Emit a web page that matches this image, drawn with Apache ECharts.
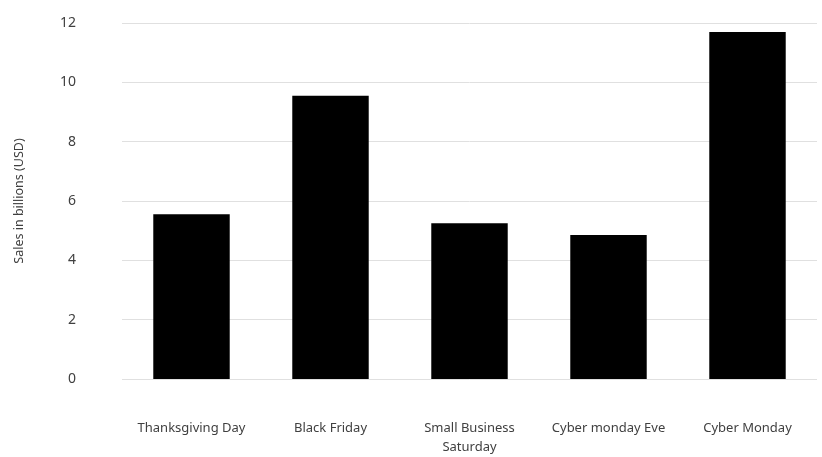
<!DOCTYPE html>
<html>
<head>
<meta charset="utf-8">
<script src="https://cdn.jsdelivr.net/npm/echarts@6/dist/echarts.min.js"></script>
<style>
html,body{margin:0;padding:0;background:#fff;}
#chart{width:822px;height:457px;}
</style>
</head>
<body>
<div id="chart"></div>
<script>
var categories = ["Thanksgiving Day", "Black Friday", "Small Business Saturday", "Cyber monday Eve", "Cyber Monday"];
var sales = [5.55, 9.55, 5.25, 4.85, 11.7];
var yTicks = [0, 2, 4, 6, 8, 10, 12];

var FONT = "Noto Sans";
var chart = echarts.init(document.getElementById('chart'), null, {renderer: 'canvas'});
chart.setOption({
  animation: false,
  backgroundColor: '#ffffff',
  grid: {left: 122, right: 5, top: 23, bottom: 76},
  xAxis: {
    type: 'category',
    data: categories,
    axisLine: {show: false},
    axisTick: {show: false},
    axisLabel: {
      color: '#404040', fontFamily: FONT, fontSize: 13, margin: 40, lineHeight: 19,
      interval: 0,
      formatter: function (v) { return v === 'Small Business Saturday' ? 'Small Business\nSaturday' : v; }
    }
  },
  yAxis: {
    type: 'value',
    min: yTicks[0], max: yTicks[yTicks.length - 1], interval: 2,
    name: 'Sales in billions (USD)',
    nameLocation: 'middle',
    nameGap: 96,
    nameTextStyle: {color: '#404040', fontFamily: FONT, fontSize: 12.5},
    axisLine: {show: false},
    axisTick: {show: false},
    axisLabel: {color: '#404040', fontFamily: FONT, fontSize: 14, margin: 46},
    splitLine: {lineStyle: {color: '#e0e0e0', width: 1}}
  },
  series: [{
    type: 'bar',
    data: sales,
    barWidth: '55%',
    itemStyle: {color: '#000000'}
  }]
});
</script>
</body>
</html>
